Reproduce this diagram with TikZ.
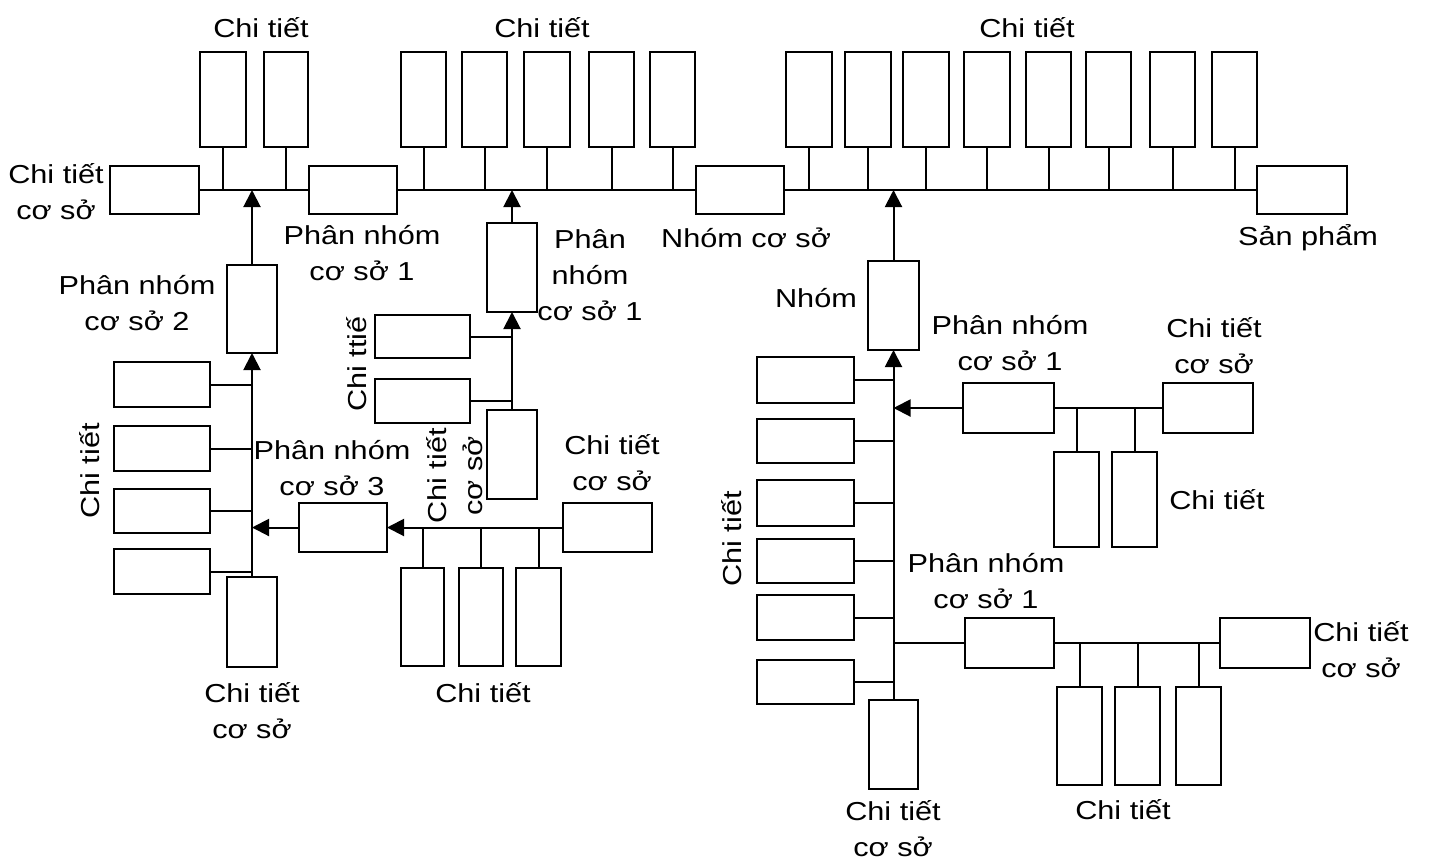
\documentclass[tikz,border=0pt]{standalone}
\usepackage{fontspec}
\setmainfont{Liberation Sans}[FakeStretch=1.18]
\usetikzlibrary{arrows.meta}
\newcommand\bx[5]{%
  \pgfmathsetmacro\bxw{#4-#2}%
  \pgfmathsetmacro\bxh{#5-#3}%
  \node[box, minimum width=\bxw pt, minimum height=\bxh pt] (#1) at ({(#2+#4)/2},{(#3+#5)/2}) {};}
\begin{document}
\begin{tikzpicture}[x=1pt,y=-1pt,
  box/.style={draw, line width=2.6pt, inner sep=0pt, outer sep=0pt},
  lab/.style={inner sep=0pt, align=center, font=\fontsize{26}{36}\selectfont},
  con/.style={line width=2pt},
  arr/.style={line width=2pt, -{Triangle[length=17pt,width=17pt]}}]
\useasboundingbox (0,0) rectangle (1431,863);
% ---------------- main line boxes
\bx{ctcs}{110}{166}{199}{214}
\bx{pn1}{309}{166}{397}{214}
\bx{ncs}{696}{166}{784}{214}
\bx{sp}{1257}{166}{1347}{214}
\draw[con] (ctcs.east) -- (pn1.west);
\draw[con] (pn1.east) -- (ncs.west);
\draw[con] (ncs.east) -- (sp.west);
% top parts
\bx{t1}{200}{52}{246}{147}
\bx{t2}{264}{52}{308}{147}
\bx{t3}{401}{52}{446}{147}
\bx{t4}{462}{52}{507}{147}
\bx{t5}{524}{52}{570}{147}
\bx{t6}{589}{52}{634}{147}
\bx{t7}{650}{52}{695}{147}
\bx{t8}{786}{52}{832}{147}
\bx{t9}{845}{52}{891}{147}
\bx{t10}{903}{52}{949}{147}
\bx{t11}{964}{52}{1010}{147}
\bx{t12}{1026}{52}{1071}{147}
\bx{t13}{1086}{52}{1131}{147}
\bx{t14}{1150}{52}{1195}{147}
\bx{t15}{1212}{52}{1257}{147}
\foreach \t in {t1,t2,t3,t4,t5,t6,t7,t8,t9,t10,t11,t12,t13,t14,t15}
  \draw[con] (\t.south) -- (\t.south |- ctcs.east);
% ---------------- left subassembly
\bx{pn2}{227}{265}{277}{353}
\bx{lcs}{227}{577}{277}{667}
\bx{l1}{114}{362}{210}{407}
\bx{l2}{114}{426}{210}{471}
\bx{l3}{114}{489}{210}{533}
\bx{l4}{114}{549}{210}{594}
\draw[arr] (pn2.north) -- (pn2.north |- ctcs.east);
\draw[arr] (lcs.north) -- (pn2.south);
\foreach \l in {l1,l2,l3,l4}
  \draw[con] (\l.east) -- (\l.east -| lcs.north);
\bx{pn3}{299}{503}{387}{552}
\draw[arr] (pn3.west) -- (pn3.west -| lcs.north);
\bx{c3}{563}{503}{652}{552}
\draw[arr] (c3.west) -- (pn3.east);
\bx{b1}{401}{568}{444}{666}
\bx{b2}{459}{568}{503}{666}
\bx{b3}{516}{568}{561}{666}
\foreach \b in {b1,b2,b3}
  \draw[con] (\b.north) -- (\b.north |- c3.west);
% ---------------- middle subassembly
\bx{pm}{487}{223}{537}{312}
\bx{cm}{487}{410}{537}{499}
\bx{ma}{375}{315}{470}{358}
\bx{mb}{375}{379}{470}{423}
\draw[arr] (pm.north) -- (pm.north |- ctcs.east);
\draw[arr] (cm.north) -- (pm.south);
\draw[con] (ma.east) -- (ma.east -| cm.north);
\draw[con] (mb.east) -- (mb.east -| cm.north);
% ---------------- right subassembly
\bx{nh}{868}{261}{919}{350}
\bx{rcs}{869}{700}{918}{789}
\draw[arr] (nh.north) -- (nh.north |- ctcs.east);
\draw[arr] (rcs.north) -- (nh.south);
\bx{r1}{757}{357}{854}{403}
\bx{r2}{757}{419}{854}{463}
\bx{r3}{757}{480}{854}{526}
\bx{r4}{757}{539}{854}{583}
\bx{r5}{757}{595}{854}{640}
\bx{r6}{757}{660}{854}{704}
\foreach \r in {r1,r2,r3,r4,r5,r6}
  \draw[con] (\r.east) -- (\r.east -| rcs.north);
% upper sub-subassembly
\bx{pu}{963}{383}{1054}{433}
\bx{cu}{1163}{383}{1253}{433}
\draw[arr] (pu.west) -- (pu.west -| rcs.north);
\draw[con] (pu.east) -- (cu.west);
\bx{u1}{1054}{452}{1099}{547}
\bx{u2}{1112}{452}{1157}{547}
\foreach \u in {u1,u2}
  \draw[con] (\u.north) -- (\u.north |- cu.west);
% lower sub-subassembly
\bx{pl}{965}{618}{1054}{668}
\bx{cl}{1220}{618}{1310}{668}
\draw[con] (pl.west) -- (pl.west -| rcs.north);
\draw[con] (pl.east) -- (cl.west);
\bx{w1}{1057}{687}{1102}{785}
\bx{w2}{1115}{687}{1160}{785}
\bx{w3}{1176}{687}{1221}{785}
\foreach \w in {w1,w2,w3}
  \draw[con] (\w.north) -- (\w.north |- cl.west);
% ---------------- labels
\node[lab] (L1) at (261,28) {Chi tiết};
\node[lab] (L2) at (542,28) {Chi tiết};
\node[lab] (L3) at (1027,28) {Chi tiết};
\node[lab] (L4) at (56,192) {Chi tiết\\cơ sở};
\node[lab] (L5) at (362,253) {Phân nhóm\\cơ sở 1};
\node[lab] (L6) at (137,303) {Phân nhóm\\cơ sở 2};
\node[lab] (L7) at (590,275) {Phân\\nhóm\\cơ sở 1};
\node[lab] (L8) at (746,238) {Nhóm cơ sở};
\node[lab] (L9) at (1308,238) {Sản phẩm};
\node[lab] (L10) at (816,298) {Nhóm};
\node[lab] (L11) at (1010,343) {Phân nhóm\\cơ sở 1};
\node[lab] (L12) at (1214,346) {Chi tiết\\cơ sở};
\node[lab] (L13) at (1217,500) {Chi tiết};
\node[lab] (L14) at (986,581) {Phân nhóm\\cơ sở 1};
\node[lab] (L15) at (1361,650) {Chi tiết\\cơ sở};
\node[lab] (L16) at (1123,810) {Chi tiết};
\node[lab] (L17) at (893,829) {Chi tiết\\cơ sở};
\node[lab, rotate=90] (L18) at (732,539) {Chi tiết};
\node[lab, rotate=90] (L19) at (90,471) {Chi tiết};
\node[lab, rotate=90] (L20) at (357,364) {Chi ttiế};
\node[lab, rotate=90] (L21) at (455,476) {Chi tiết\\cơ sở};
\node[lab] (L22) at (332,468) {Phân nhóm\\cơ sở 3};
\node[lab] (L23) at (612,463) {Chi tiết\\cơ sở};
\node[lab] (L24) at (483,693) {Chi tiết};
\node[lab] (L25) at (252,711) {Chi tiết\\cơ sở};
\end{tikzpicture}
\end{document}
